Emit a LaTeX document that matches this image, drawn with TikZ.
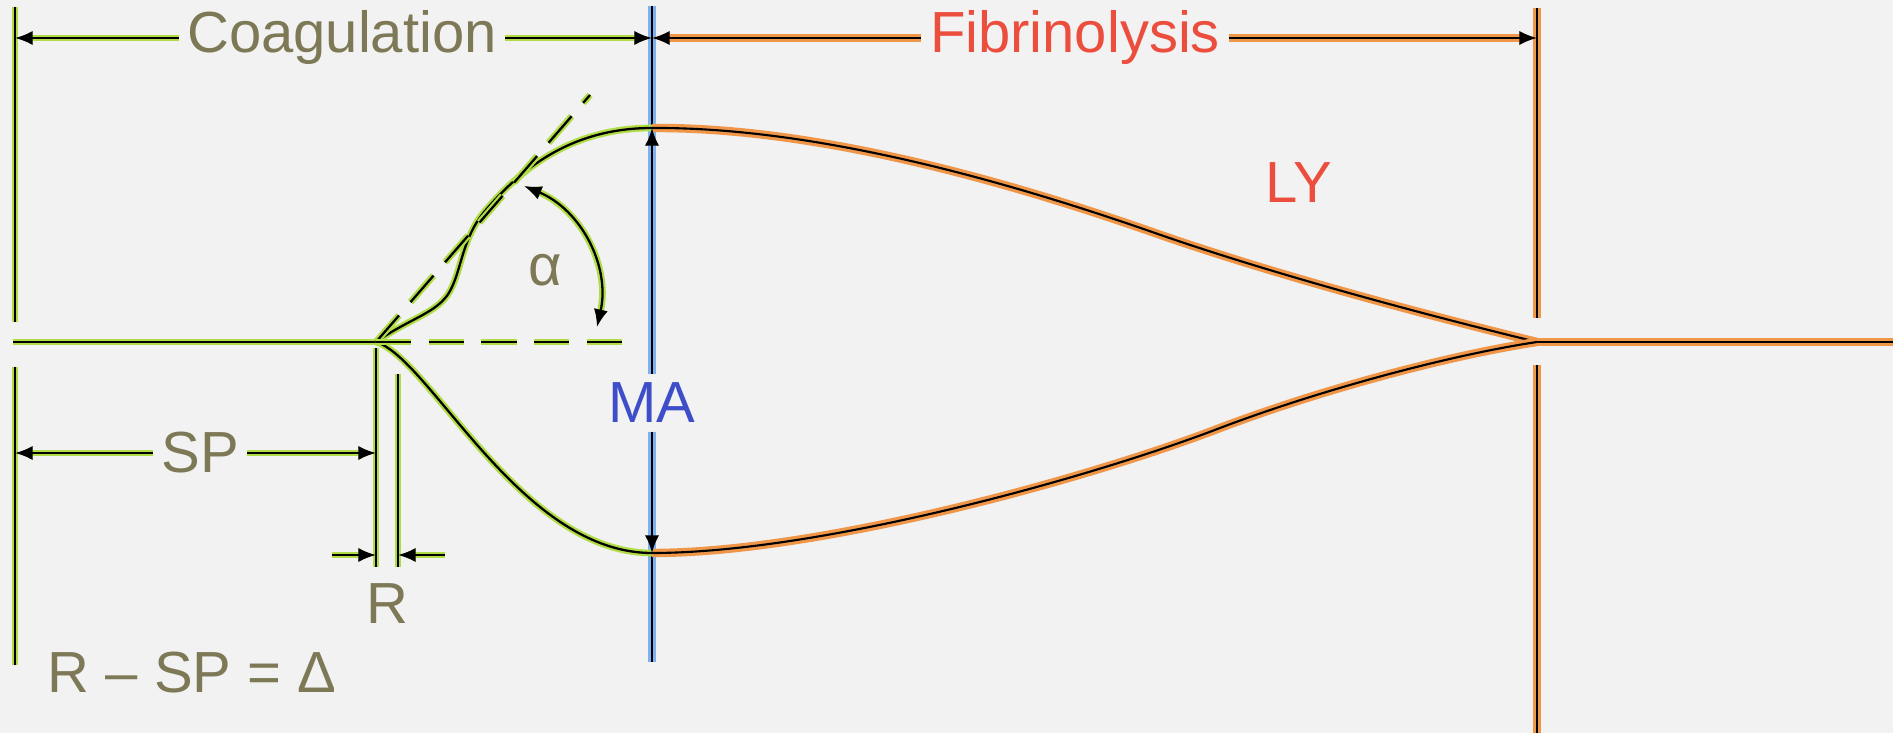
\documentclass[tikz,border=0pt]{standalone}
\usepackage{fontspec}
\setmainfont{Liberation Sans}
\usepackage{xcolor}
\usetikzlibrary{calc}
\usetikzlibrary{arrows,arrows.meta}
\tikzset{>={Latex[length=5pt,width=4pt]}}
\definecolor{paper}{RGB}{242,242,242}
\definecolor{coaggreen}{RGB}{176,220,70}
\definecolor{fibrorange}{RGB}{240,150,72}
\definecolor{mablue}{RGB}{125,178,236}
\definecolor{coagtext}{RGB}{125,121,86}
\definecolor{fibrtext}{RGB}{236,78,62}
\definecolor{matext}{RGB}{62,78,200}
\tikzstyle{greenln}=[black,line width=0.65pt,preaction={draw=coaggreen,line width=1.9pt}]
\tikzstyle{orangeln}=[black,line width=0.6pt,preaction={draw=fibrorange,line width=2.4pt}]
\tikzstyle{blueln}=[black,line width=0.65pt,preaction={draw=mablue,line width=2.2pt}]
\tikzstyle{dashln}=[black,line width=0.65pt,dash pattern=on 10pt off 5pt,
  preaction={draw=coaggreen,line width=1.9pt,dash pattern=on 10pt off 5pt}]

\begin{document}
\begin{tikzpicture}[
    txt/.style={font=\fontsize{16.5}{19}\selectfont,inner sep=0.08cm},
  ]
  
  \def\W{18.93}     % picture width
  \def\Ht{7.33}     % picture height
  \def\yb{3.91}     % baseline
  \def\yT{6.95}     % top arrows
  \def\xL{0.15}     % start of recording
  \def\xS{3.76}     % split point
  \def\xR{3.98}     % second R mark
  \def\xM{6.52}     % maximum amplitude
  \def\xE{15.37}    % end of lysis
  
  % BACKGROUND
  \useasboundingbox (0,0) rectangle (\W,\Ht);
  \fill[paper] (0,0) rectangle (\W,\Ht);
  
  \coordinate (S) at (\xS,\yb);
  \coordinate (E) at (\xE,\yb);
  \coordinate (Mtop) at (\xM,6.05);
  \coordinate (Mbot) at (\xM,1.80);
  
  % MARKERS
  \draw[greenln] (\xL,7.26) -- (\xL,4.11) (\xL,3.66) -- (\xL,0.68);
  \draw[orangeln] (\xE,7.25) -- (\xE,4.15) (\xE,3.68) -- (\xE,0);
  \draw[greenln] (\xS,3.85) -- (\xS,1.66) (\xR,3.59) -- (\xR,1.66);
  
  % MA LINE
  \node[txt,matext] (ma) at (\xM,3.30) {MA};
  \coordinate (Mt0) at (\xM,7.27);
  \coordinate (Mb0) at (\xM,0.71);
  \draw[blueln] (Mt0) -- (ma.north) (ma.south) -- (Mb0);
  
  % TRACE
  \draw[greenln] (0.13,\yb) -- (S);
  \draw[orangeln] (E) -- (\W,\yb);
  \draw[greenln] (S) .. controls (4.10,4.15) and (4.38,4.20) .. (4.50,4.42)
    .. controls (4.62,4.64) and (4.62,4.95) .. (4.85,5.22)
    .. controls (5.20,5.63) and (5.70,6.05) .. (Mtop);
  \draw[greenln] (S) .. controls (4.30,3.75) and (5.20,1.80) .. (Mbot);
  \draw[orangeln] (Mtop) .. controls (8.10,6.06) and (9.95,5.56) .. (11.55,5.00)
    .. controls (12.75,4.58) and (14.30,4.17) .. (E);
  \draw[orangeln] (Mbot) .. controls (8.20,1.80) and (10.90,2.55) .. (12.20,3.05)
    .. controls (13.20,3.43) and (14.50,3.78) .. (E);
  
  % ANGLE
  \draw[dashln] (S) -- (5.90,6.38);
  \draw[dashln] (S) -- (6.28,\yb);
  \coordinate (A1) at (5.24,5.47);
  \coordinate (A2) at (5.97,4.06);
  \draw[greenln,<->] (A1) to[bend left=40] (A2);
  \node[txt,coagtext] (alpha) at (5.45,4.63) {α};
  
  % MA ARROWS
  \draw[blueln,->] (ma) -- (Mtop);
  \draw[blueln,->] (ma) -- (Mbot);
  
  % TOP ARROWS
  \node[txt,coagtext] (coag) at (3.42,\yT) {Coagulation};
  \node[txt,fibrtext] (fibr) at (10.75,\yT) {Fibrinolysis};
  \coordinate (cL) at (\xL,\yT);
  \coordinate (cM) at (\xM,\yT);
  \coordinate (fE) at (\xE,\yT);
  \draw[greenln,->] (coag) -- (cL);
  \draw[greenln,->] (coag) -- (cM);
  \draw[orangeln,->] (fibr) -- (cM);
  \draw[orangeln,->] (fibr) -- (fE);
  
  % SP AND R
  \node[txt,coagtext] (sp) at (2.00,2.80) {SP};
  \coordinate (spL) at (\xL,2.80);
  \coordinate (spR) at (\xS,2.80);
  \draw[greenln,->] (sp) -- (spL);
  \draw[greenln,->] (sp) -- (spR);
  \coordinate (rL) at (3.32,1.78);
  \coordinate (rL0) at (\xS,1.78);
  \coordinate (rR) at (4.45,1.78);
  \coordinate (rR0) at (\xR,1.78);
  \draw[greenln,->] (rL) -- (rL0);
  \draw[greenln,->] (rR) -- (rR0);
  \node[txt,coagtext] (rlab) at (3.87,1.29) {R};
  \node[txt,coagtext] (delta) at (1.92,0.60) {R – SP = Δ};
  
  % LYSIS
  \node[txt,fibrtext] (ly) at (12.99,5.50) {LY};
  
\end{tikzpicture}
\end{document}
